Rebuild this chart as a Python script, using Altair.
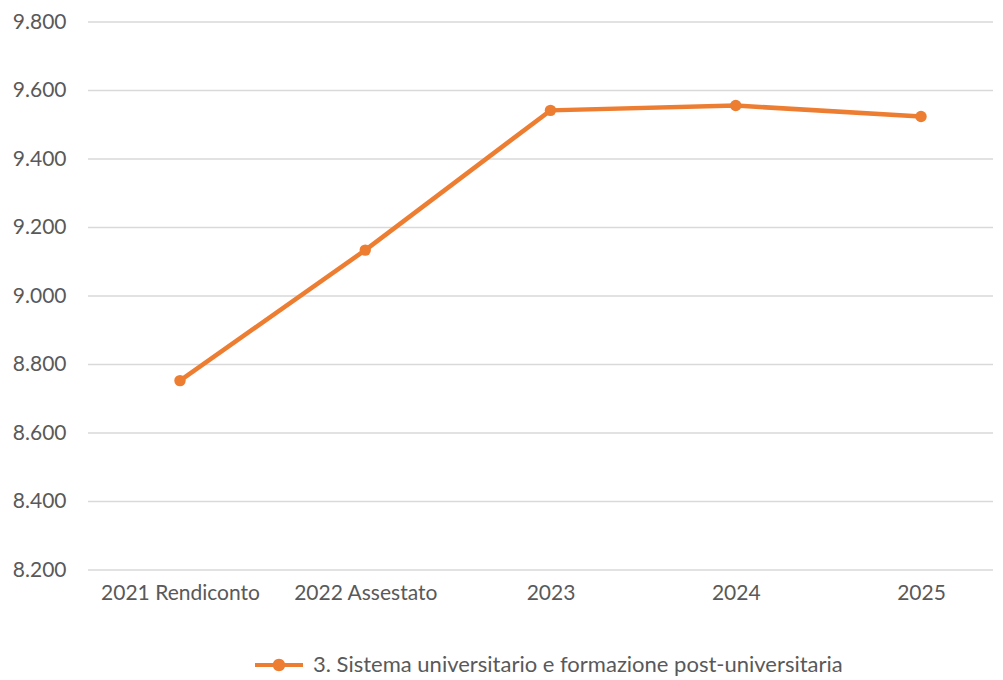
import altair as alt
import pandas as pd

categories = ["2021 Rendiconto", "2022 Assestato", "2023", "2024", "2025"]
values = [8753, 9134, 9542, 9556, 9524]
series_name = "3. Sistema universitario e formazione post-universitaria"
y_ticks = [8200, 8400, 8600, 8800, 9000, 9200, 9400, 9600, 9800]

df = pd.DataFrame({"cat": categories, "val": values, "serie": [series_name] * len(categories)})
grid_df = pd.DataFrame({"val": y_ticks})

ORANGE = "#ED7D31"
FONT = "Lato"
GRAY = "#595959"
W, H = 905, 548

legend_path = ("M-1,-0.085 L1,-0.085 L1,0.085 L-1,0.085 Z "
               "M0.26,0 A0.26,0.26 0 1,1 -0.26,0 A0.26,0.26 0 1,1 0.26,0 Z")

yscale = alt.Scale(domain=[8200, 9800], nice=False, zero=False)

x = alt.X("cat:N", sort=categories, title=None,
          scale=alt.Scale(type="point", range=[92, 833], padding=0),
          axis=alt.Axis(labelAngle=0, domain=False, ticks=False, grid=False,
                        labelFont=FONT, labelFontSize=21, labelColor=GRAY,
                        labelPadding=12))
y = alt.Y("val:Q", title=None, scale=yscale,
          axis=alt.Axis(values=y_ticks, domain=False, ticks=False, grid=False,
                        labelFont=FONT, labelFontSize=21, labelColor=GRAY,
                        labelPadding=22,
                        labelExpr="replace(format(datum.value, ',d'), ',', '.')"))

color = alt.Color("serie:N", title=None,
                  scale=alt.Scale(domain=[series_name], range=[ORANGE]),
                  legend=alt.Legend(orient="none", legendX=167, legendY=619,
                                    symbolType=legend_path, symbolSize=2304,
                                    symbolStrokeWidth=0, symbolFillColor=ORANGE,
                                    labelOffset=10,
                                    labelFont=FONT, labelFontSize=22, labelColor=GRAY,
                                    labelLimit=800, symbolOpacity=1))

grid = alt.Chart(grid_df).mark_rule(color="#D9D9D9", strokeWidth=1.3).encode(
    y=y, x=alt.value(0), x2=alt.value(W))

line = alt.Chart(df).mark_line(strokeWidth=4.5, color=ORANGE).encode(x=x, y=y, color=color)
pts = alt.Chart(df).mark_circle(size=130, opacity=1, color=ORANGE).encode(x=x, y=y)

chart = (grid + line + pts).properties(
    width=W, height=H,
    autosize=alt.AutoSizeParams(type="none"),
    padding={"left": 80, "top": 14, "right": 0, "bottom": 106},
).configure(background="white").configure_view(stroke=None)

chart.save("out.html", embed_options={"renderer": "svg", "actions": False})
